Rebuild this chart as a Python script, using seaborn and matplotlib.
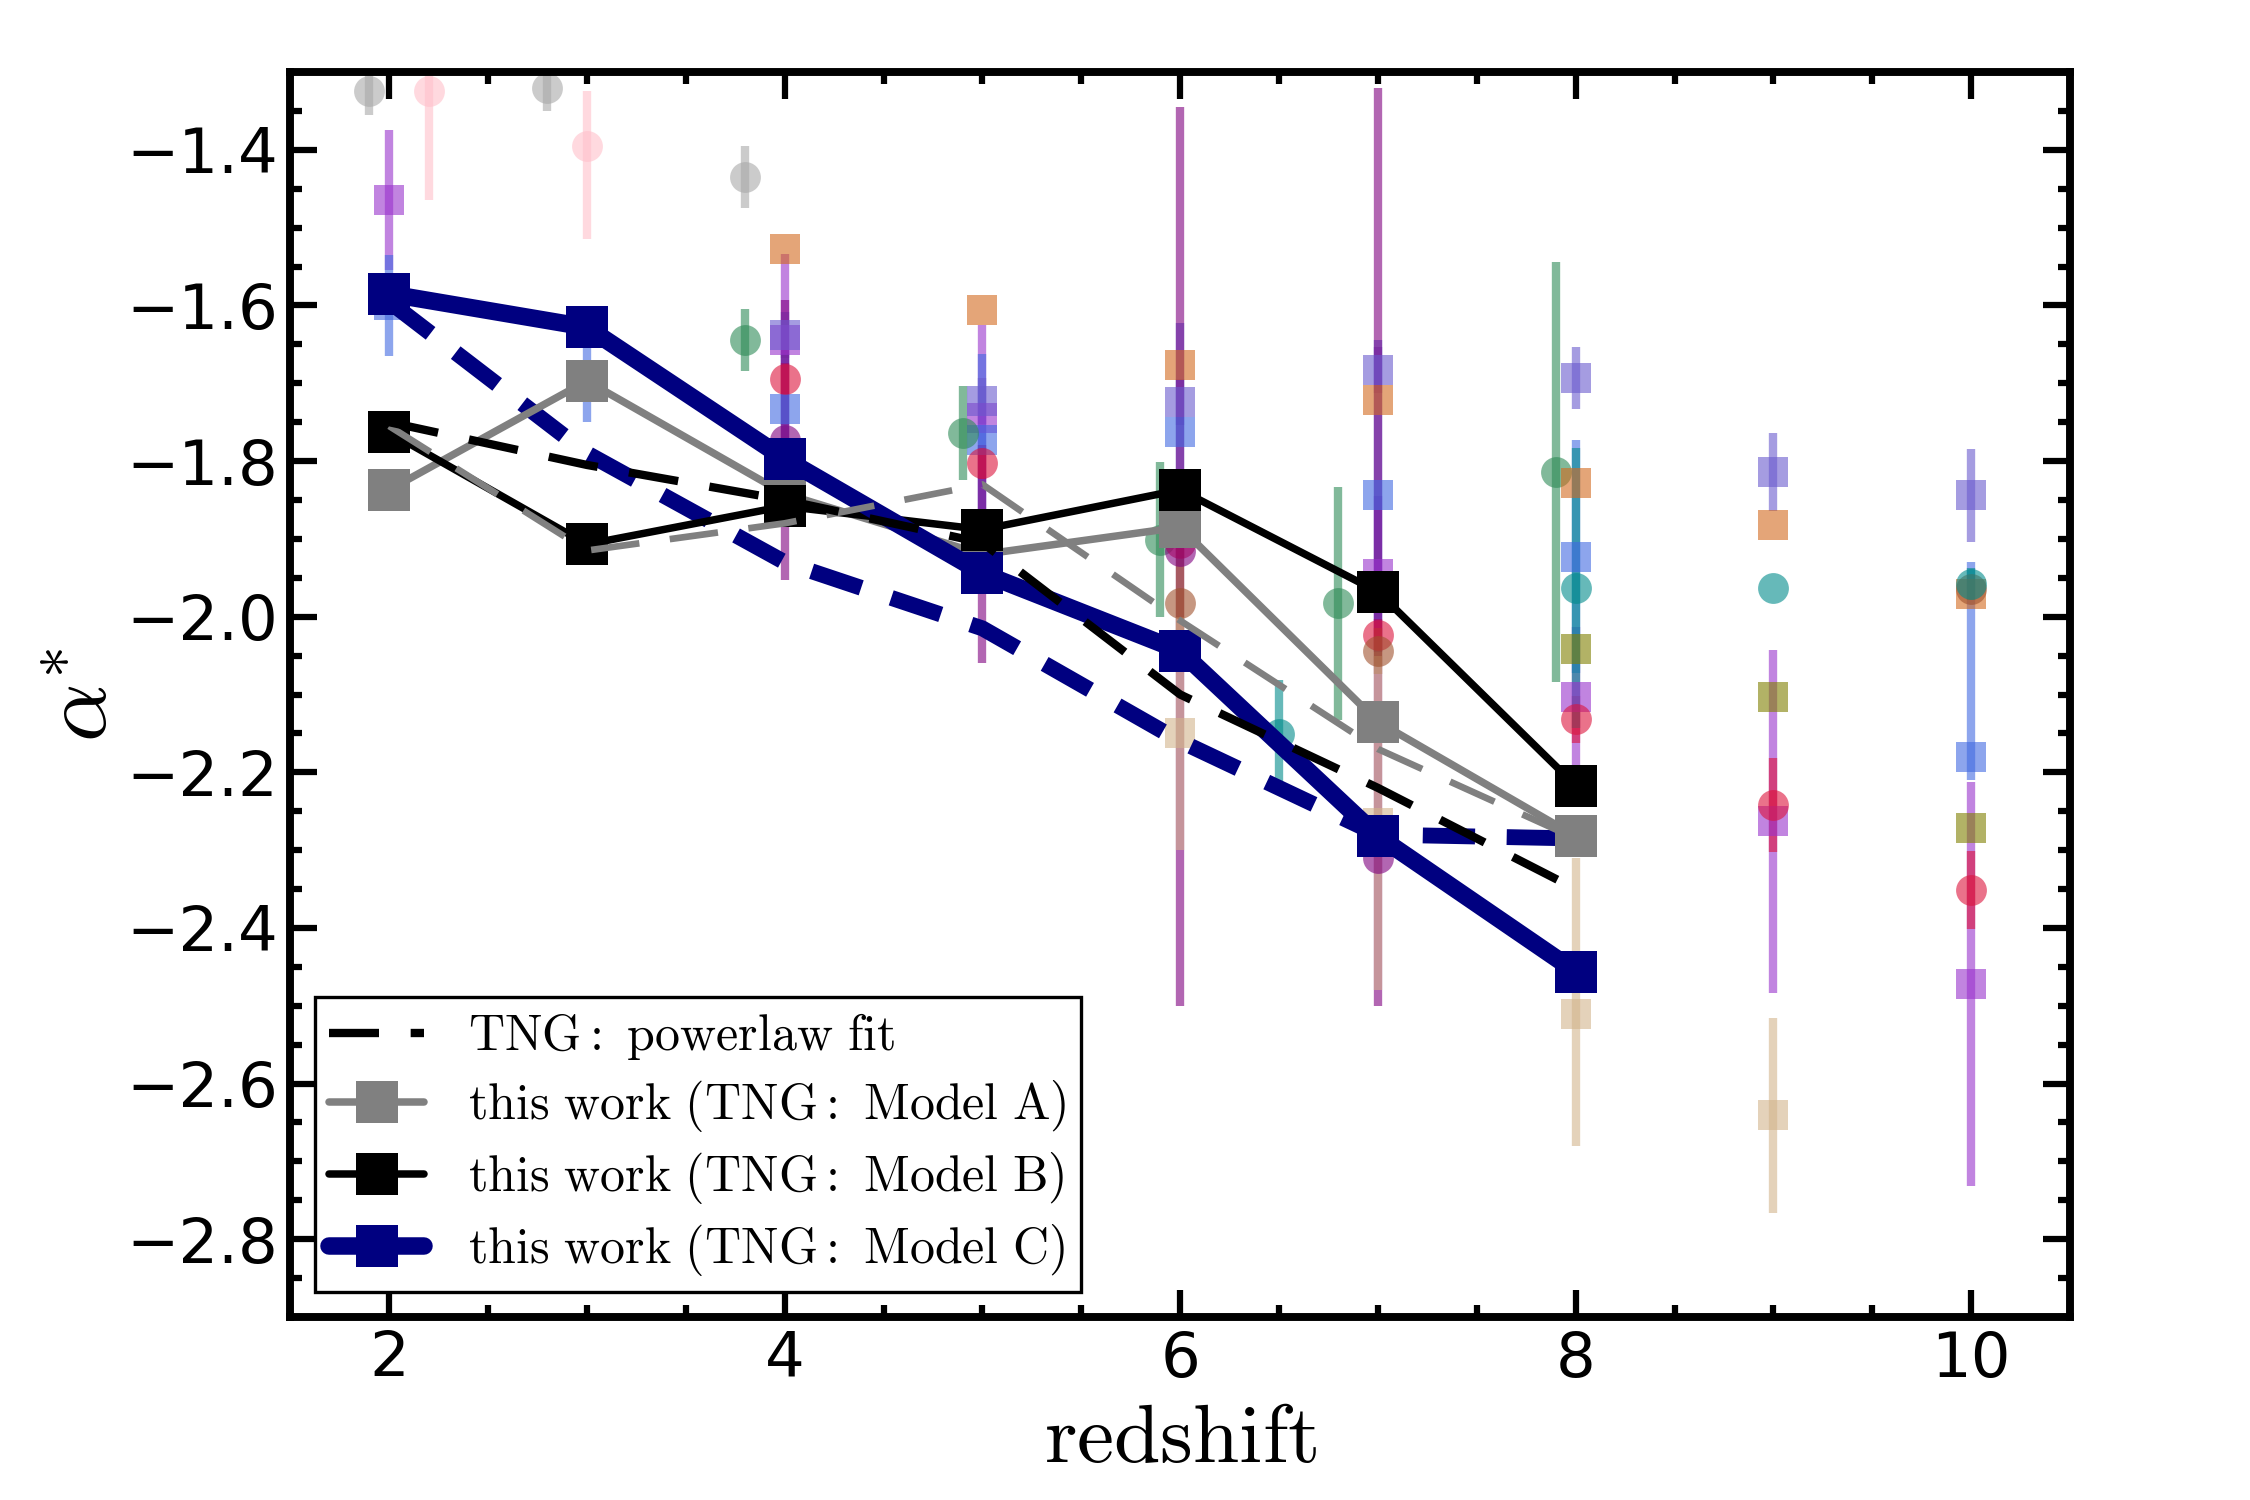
import numpy as np
import matplotlib
matplotlib.use("Agg")
import matplotlib.pyplot as plt
import seaborn as sns
from matplotlib.ticker import MultipleLocator
from matplotlib.lines import Line2D

# ---------------------------------------------------------------
# this work: faint-end slope vs redshift (TNG models)
# ---------------------------------------------------------------
z_model = [2, 3, 4, 5, 6, 7, 8]
alpha_model_A = [-1.837, -1.697, -1.842, -1.92, -1.885, -2.135, -2.282]
alpha_model_B = [-1.763, -1.907, -1.858, -1.888, -1.837, -1.968, -2.217]
alpha_model_C = [-1.585, -1.628, -1.797, -1.944, -2.044, -2.282, -2.456]

# fits (dashed)
alpha_powerlaw = [-1.75, -1.805, -1.85, -1.905, -2.10, -2.22, -2.35]
alpha_fit_A = [-1.755, -1.915, -1.88, -1.83, -2.005, -2.17, -2.285]
alpha_fit_C = [-1.595, -1.79, -1.93, -2.015, -2.16, -2.28, -2.285]

# ---------------------------------------------------------------
# literature / observational points
# ---------------------------------------------------------------
gray_z = [1.9, 2.8, 3.8]
gray_a = [-1.325, -1.32, -1.435]
gray_lo = [0.03, 0.03, 0.04]
gray_hi = [0.03, 0.03, 0.04]

pink_z = [2.2, 3.0]
pink_a = [-1.325, -1.395]
pink_lo = [0.14, 0.12]
pink_hi = [0.14, 0.07]

orchid_z = [2, 4, 5, 7, 8, 9, 10]
orchid_a = [-1.464, -1.644, -1.745, -1.945, -2.103, -2.263, -2.472]
orchid_lo = [0.09, 0.11, 0.12, 0.10, 0.09, 0.22, 0.26]
orchid_hi = [0.09, 0.11, 0.12, 0.10, 0.09, 0.22, 0.26]

royal_z = [2, 3, 4, 5, 6, 7, 8, 10]
royal_a = [-1.60, -1.70, -1.733, -1.773, -1.763, -1.844, -1.923, -2.18]
royal_lo = [0.065, 0.05, 0.07, 0.11, 0.14, 0.20, 0.15, 0.03]
royal_hi = [0.065, 0.05, 0.07, 0.11, 0.14, 0.20, 0.15, 0.25]

green_z = [3.8, 4.9, 5.9, 6.8, 7.9]
green_a = [-1.644, -1.764, -1.901, -1.983, -1.814]
green_lo = [0.04, 0.06, 0.10, 0.15, 0.27]
green_hi = [0.04, 0.06, 0.10, 0.15, 0.27]

orange_z = [4, 5, 6, 7, 8, 9, 10]
orange_a = [-1.528, -1.606, -1.676, -1.721, -1.828, -1.882, -1.971]
orange_lo = [0, 0, 0, 0, 0, 0, 0]
orange_hi = [0, 0, 0, 0, 0, 0, 0]

slate_z = [4, 5, 6, 7, 8, 9, 10]
slate_a = [-1.638, -1.723, -1.724, -1.683, -1.693, -1.814, -1.844]
slate_lo = [0.03, 0.03, 0.03, 0.03, 0.04, 0.05, 0.06]
slate_hi = [0.03, 0.03, 0.03, 0.03, 0.04, 0.05, 0.06]

crimson_z = [4, 5, 6, 7, 8, 9, 10]
crimson_a = [-1.694, -1.803, -1.905, -2.023, -2.132, -2.242, -2.351]
crimson_lo = [0.02, 0.02, 0.02, 0.02, 0.03, 0.06, 0.05]
crimson_hi = [0.02, 0.02, 0.02, 0.02, 0.03, 0.06, 0.05]

purple_z = [4, 5, 6, 7]
purple_a = [-1.773, -1.92, -1.915, -2.31]
purple_lo = [0.18, 0.14, 0.585, 0.19]
purple_hi = [0.18, 0.14, 0.57, 0.99]

sienna_z = [6, 7, 10]
sienna_a = [-1.983, -2.044, -1.965]
sienna_lo = [0.07, 0.03, 0.0]
sienna_hi = [0.07, 0.03, 0.0]

tan_z = [6, 7, 8, 9]
tan_a = [-2.15, -2.265, -2.51, -2.641]
tan_lo = [0.15, 0.215, 0.17, 0.125]
tan_hi = [0.15, 0.215, 0.20, 0.125]

teal_z = [6.5, 8, 9, 10]
teal_a = [-2.151, -1.963, -1.963, -1.958]
teal_lo = [0.07, 0.18, 0.0, 0.02]
teal_hi = [0.07, 0.18, 0.0, 0.02]

olive_z = [8, 9, 10]
olive_a = [-2.042, -2.103, -2.272]
olive_lo = [0, 0, 0]
olive_hi = [0, 0, 0]

obs_sets = [
    (gray_z, gray_a, gray_lo, gray_hi, "darkgray", "o"),
    (pink_z, pink_a, pink_lo, pink_hi, "pink", "o"),
    (orchid_z, orchid_a, orchid_lo, orchid_hi, "darkorchid", "s"),
    (royal_z, royal_a, royal_lo, royal_hi, "royalblue", "s"),
    (green_z, green_a, green_lo, green_hi, "seagreen", "o"),
    (orange_z, orange_a, orange_lo, orange_hi, "chocolate", "s"),
    (slate_z, slate_a, slate_lo, slate_hi, "slateblue", "s"),
    (crimson_z, crimson_a, crimson_lo, crimson_hi, "crimson", "o"),
    (purple_z, purple_a, purple_lo, purple_hi, "purple", "o"),
    (sienna_z, sienna_a, sienna_lo, sienna_hi, "sienna", "o"),
    (tan_z, tan_a, tan_lo, tan_hi, "tan", "s"),
    (teal_z, teal_a, teal_lo, teal_hi, "darkcyan", "o"),
    (olive_z, olive_a, olive_lo, olive_hi, "olive", "s"),
]

# ---------------------------------------------------------------
# style
# ---------------------------------------------------------------
sns.set_style("ticks")
plt.rcParams["font.family"] = ["DejaVu Sans"]
plt.rcParams["mathtext.fontset"] = "cm"
for key in ["text.color", "axes.labelcolor", "axes.edgecolor",
            "xtick.color", "ytick.color"]:
    plt.rcParams[key] = "black"

fig = plt.figure(figsize=(7.5, 5), dpi=300)
ax = fig.add_axes([0.129, 0.122, 0.791, 0.830])

for zz, aa, lo, hi, col, mk in obs_sets:
    ax.errorbar(zz, aa, yerr=[lo, hi], fmt=mk, color=col, ms=7.4, mew=0,
                elinewidth=2.0, capsize=0, alpha=0.6, zorder=2)

# dashed fit of model C (no legend entry)
ax.plot(z_model, alpha_fit_C, color="navy", lw=3.8, dashes=(3.3, 2.0), zorder=3)

sns.lineplot(x=z_model, y=alpha_model_A, ax=ax, color="gray", lw=1.8,
             marker="s", ms=10, mew=0, zorder=4)
sns.lineplot(x=z_model, y=alpha_model_B, ax=ax, color="black", lw=1.8,
             marker="s", ms=10, mew=0, zorder=5)
sns.lineplot(x=z_model, y=alpha_model_C, ax=ax, color="navy", lw=4.2,
             marker="s", ms=10, mew=0, zorder=6)

ax.plot(z_model, alpha_fit_A, color="gray", lw=1.6, dashes=(7.3, 4.6), zorder=7)
ax.plot(z_model, alpha_powerlaw, color="black", lw=2.0, dashes=(6, 3.8), zorder=8)

h_pl = Line2D([], [], color="black", lw=2.0, dashes=(6, 3.8))
h_A = Line2D([], [], color="gray", lw=1.8, marker="s", ms=10, mew=0)
h_B = Line2D([], [], color="black", lw=1.8, marker="s", ms=10, mew=0)
h_C = Line2D([], [], color="navy", lw=4.2, marker="s", ms=10, mew=0)

leg = ax.legend([h_pl, h_A, h_B, h_C],
                [r"$\mathrm{TNG:\ powerlaw\ fit}$",
                 r"$\mathrm{this\ work\ (TNG:\ Model\ A)}$",
                 r"$\mathrm{this\ work\ (TNG:\ Model\ B)}$",
                 r"$\mathrm{this\ work\ (TNG:\ Model\ C)}$"],
                loc="lower left", fontsize=12, handlelength=1.9,
                handletextpad=0.88, labelspacing=0.32, borderpad=0.28,
                fancybox=False, framealpha=1, edgecolor="black",
                borderaxespad=0.5)
leg.get_frame().set_linewidth(0.8)

ax.set_xlim(1.5, 10.5)
ax.set_ylim(-2.9, -1.3)
ax.xaxis.set_major_locator(MultipleLocator(2))
ax.xaxis.set_minor_locator(MultipleLocator(0.5))
ax.yaxis.set_major_locator(MultipleLocator(0.2))
ax.yaxis.set_minor_locator(MultipleLocator(0.05))
ax.tick_params(which="both", direction="in", top=True, right=True,
               width=1.5, labelsize=15, pad=3)
ax.tick_params(which="major", length=6.5)
ax.tick_params(which="minor", length=2.8)
for sp in ax.spines.values():
    sp.set_linewidth(1.9)

ax.set_xlabel(r"$\mathrm{redshift}$", fontsize=20, labelpad=2)
ax.set_ylabel(r"$\alpha^{*}$", fontsize=22, labelpad=0)

fig.savefig("out.png", dpi=300)
